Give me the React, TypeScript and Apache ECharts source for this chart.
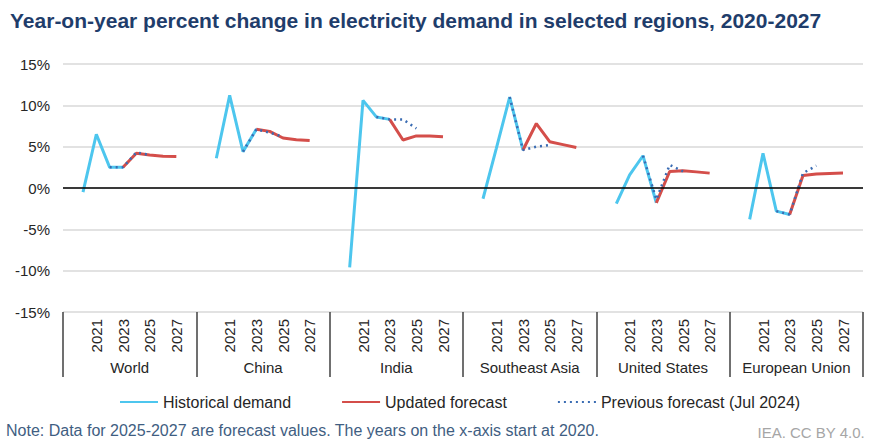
import React, { useEffect, useRef } from "react";
import * as echarts from "echarts";

const regions = ["World", "China", "India", "Southeast Asia", "United States", "European Union"];
const years = [2020, 2021, 2022, 2023, 2024, 2025, 2026, 2027];

// Historical demand 2020-2023
const historical = [
  [-0.5, 6.5, 2.5, 2.5],
  [3.6, 11.2, 4.4, 7.1],
  [-9.6, 10.6, 8.6, 8.3],
  [-1.3, 4.8, 11.0, 4.6],
  [-1.9, 1.6, 3.9, -1.8],
  [-3.8, 4.2, -2.8, -3.2],
];
// Updated forecast 2023-2027
const updated = [
  [2.5, 4.2, 4.0, 3.85, 3.8],
  [7.1, 6.85, 6.05, 5.85, 5.75],
  [8.3, 5.8, 6.3, 6.3, 6.2],
  [4.6, 7.8, 5.6, 5.25, 4.9],
  [-1.8, 2.0, 2.1, 1.95, 1.8],
  [-3.2, 1.5, 1.7, 1.75, 1.8],
];
// Previous forecast (Jul 2024) 2022-2025
const previous = [
  [2.5, 2.5, 4.3, 4.0],
  [4.4, 7.1, 6.7, 6.2],
  [8.6, 8.3, 8.3, 7.2],
  [11.0, 4.6, 5.0, 5.2],
  [3.9, -1.4, 2.8, 2.0],
  [-2.8, -3.2, 1.8, 2.7],
];
const yTicks = [-15, -10, -5, 0, 5, 10, 15];

const SLOTS = 10; // blank, 2020..2027, blank

function buildCategories(): string[] {
  const cats: string[] = [];
  regions.forEach((r, g) => {
    for (let s = 0; s < SLOTS; s++) {
      const y = s >= 1 && s <= years.length ? String(years[s - 1]) : "";
      cats.push(`${g}|${s}|${y}`);
    }
  });
  return cats;
}

function buildSeries(values: number[][], startYear: number): (number | null)[] {
  const out: (number | null)[] = [];
  regions.forEach((_, g) => {
    const arr: (number | null)[] = new Array(SLOTS).fill(null);
    values[g].forEach((v, i) => {
      const slot = startYear - years[0] + 1 + i;
      arr[slot] = v;
    });
    out.push(...arr);
  });
  return out;
}

export default function App() {
  const ref = useRef<HTMLDivElement>(null);
  useEffect(() => {
    if (!ref.current) return;
    const chart = echarts.init(ref.current, undefined, { renderer: "svg" });
    const cats = buildCategories();
    const font = "Liberation Sans, Arial, sans-serif";
    chart.setOption({
      animation: false,
      textStyle: { fontFamily: font },
      grid: { left: 63, right: 32, top: 64, bottom: 135, containLabel: false },
      title: {
        text: "Year-on-year percent change in electricity demand in selected regions, 2020-2027",
        left: 5,
        top: 5,
        textStyle: { fontFamily: font, fontSize: 21, fontWeight: "bold", color: "#1f3d6b" },
      },
      legend: {
        left: 114,
        top: 389,
        itemWidth: 38,
        itemHeight: 14,
        itemGap: 50,
        itemStyle: { opacity: 0 },
        textStyle: { fontFamily: font, fontSize: 16, color: "#262626" },
        data: ["Historical demand", "Updated forecast", "Previous forecast (Jul 2024)"],
      },
      xAxis: [
        {
          type: "category",
          data: cats,
          position: "bottom",
          boundaryGap: true,
          axisLine: { show: false },
          axisTick: { show: false },
          axisLabel: {
            interval: 0,
            rotate: 90,
            margin: 7,
            fontSize: 15,
            color: "#262626",
            fontFamily: font,
            formatter: (v: string) => {
              const y = v.split("|")[2];
              return y && Number(y) % 2 === 1 ? y : "";
            },
          },
        },
        {
          type: "category",
          data: regions,
          position: "bottom",
          boundaryGap: true,
          axisLine: { show: false },
          axisTick: { show: true, length: 65, interval: 0, lineStyle: { color: "#404040", width: 1.5 } },
          axisLabel: { interval: 0, margin: 48, fontSize: 15, color: "#262626", fontFamily: font },
        },
      ],
      yAxis: {
        type: "value",
        min: yTicks[0],
        max: yTicks[yTicks.length - 1],
        interval: 5,
        axisLine: { show: false },
        axisTick: { show: false },
        axisLabel: { fontSize: 15, color: "#262626", margin: 13, fontFamily: font, formatter: (v: number) => `${v}%` },
        splitLine: { lineStyle: { color: "#d9d9d9", width: 1.5 } },
      },
      series: [
        {
          name: "Historical demand",
          type: "line",
          data: buildSeries(historical, 2020),
          symbol: "none",
          connectNulls: false,
          color: "#4dc6ee",
          lineStyle: { color: "#4dc6ee", width: 3 },
          markLine: {
            silent: true,
            symbol: "none",
            label: { show: false },
            lineStyle: { color: "#000000", width: 1.5, type: "solid" },
            data: [{ yAxis: 0 }],
          },
          z: 2,
        },
        {
          name: "Updated forecast",
          type: "line",
          data: buildSeries(updated, 2023),
          symbol: "none",
          connectNulls: false,
          color: "#d44e4a",
          lineStyle: { color: "#d44e4a", width: 3 },
          z: 3,
        },
        {
          name: "Previous forecast (Jul 2024)",
          type: "line",
          data: buildSeries(previous, 2022),
          symbol: "none",
          connectNulls: false,
          color: "#3a6cb3",
          lineStyle: { color: "#3a6cb3", width: 2.5, type: [2, 4] },
          z: 4,
        },
      ],
      graphic: [
        {
          type: "text",
          left: 6,
          top: 422,
          style: {
            text: "Note: Data for 2025-2027 are forecast values. The years on the x-axis start at 2020.",
            fontSize: 16,
            fontFamily: font,
            fill: "#3f5e82",
          },
        },
        {
          type: "text",
          right: 30,
          top: 425,
          style: { text: "IEA. CC BY 4.0.", fontSize: 15, fontFamily: font, fill: "#a6a6a6" },
        },
      ],
    });
    return () => chart.dispose();
  }, []);
  return <div ref={ref} style={{ width: 895, height: 447, position: "absolute", left: 0, top: 0 }} />;
}
